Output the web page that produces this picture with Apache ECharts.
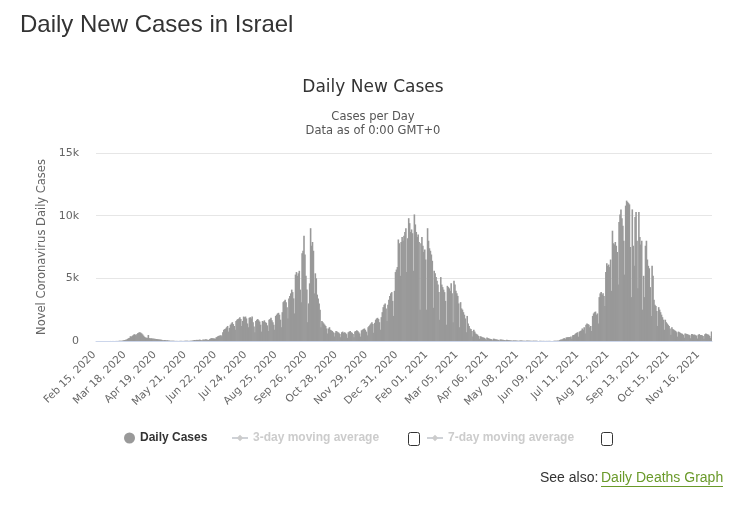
<!DOCTYPE html>
<html>
<head>
<meta charset="utf-8">
<script src="https://cdn.jsdelivr.net/npm/echarts@6/dist/echarts.min.js"></script>
<style>
html,body{margin:0;padding:0;background:#fff;}
#chart{width:746px;height:509px;}
</style>
</head>
<body>
<div id="chart"></div>
<script>
// Daily new cases, Israel — one array per month (Feb 15, 2020 .. Nov 28, 2021)
const feb2020 = [0,0,0,0,0,0,1,0,0,0,0,1,0,1,2];
const mar2020 = [3,2,3,3,2,4,4,7,6,12,21,17,25,42,58,75,102,120,170,220,250,380,350,410,470,540,520,460,560,640,680];
const apr2020 = [690,650,600,520,420,330,280,260,250,480,230,210,220,200,190,180,170,160,150,140,130,120,110,100,70,60,80,70,50,60];
const may2020 = [40,30,20,15,12,18,10,8,6,10,5,3,8,15,12,7,5,10,17,20,14,12,8,10,15,25,40,60,80,70,90];
const jun2020 = [90,80,110,100,50,60,120,100,110,130,120,90,80,150,200,230,220,210,200,180,300,330,390,420,440,460,380,700,900,950];
const jul2020 = [1000,1100,1200,750,1050,1300,1400,1500,1350,1200,900,1600,1700,1750,1800,1900,1750,1200,1600,1950,1900,1950,1800,1400,1100,1850,1900,1800,1950,1500,1150];
const aug2020 = [700,1600,1700,1750,1650,1550,1300,750,1600,1550,1650,1500,1450,1250,800,1700,1750,1850,1650,1500,1300,900,2000,2100,2200,2250,2100,1700,1100,2300,3100];
const sep2020 = [3200,3300,3100,2700,1800,3400,3600,3800,4100,3900,3400,2200,5300,5500,5200,5400,5600,4100,3100,7000,7200,8400,6900,5200,4100,1500,3000,4600,9000,7600];
const oct2020 = [7900,7200,3800,5400,5000,3700,3400,3000,2500,1100,1600,1500,1400,1300,1200,1000,600,1000,1100,900,850,800,700,350,650,800,750,700,650,550,300];
const nov2020 = [700,750,650,700,650,550,250,700,750,800,700,650,550,300,750,800,850,800,700,600,350,850,900,950,1000,900,750,450,1100,1200];
const dec2020 = [1300,1400,1500,1350,650,1450,1700,1800,1850,1750,1500,900,1900,2300,2700,2900,3000,2600,1600,2900,3300,3600,3800,3900,3200,2000,4000,5500,5700,5900,8100];
const jan2021 = [7800,5200,7900,8300,8000,8400,8700,9000,5500,8200,9800,9400,8700,8900,8600,5600,10100,9300,8700,8300,8500,7900,2500,7800,8300,7600,7100,7300,6500,2500,9000];
const feb2021 = [8000,7400,7200,6900,6400,2650,5600,5400,5100,4800,4500,3900,1700,5100,4500,4300,4100,3900,3200,1300,4400,4300,4200,4000,4600,3800,1500,4800];
const mar2021 = [4500,4000,3800,3600,3000,1100,3100,2600,2500,2300,2100,1800,700,2000,1400,1200,1000,950,800,350,900,750,600,550,500,400,180,380,350,300,280];
const apr2021 = [250,200,90,280,230,200,180,160,140,60,190,170,140,130,110,90,40,120,110,100,90,80,70,30,100,80,70,60,50,40];
const may2021 = [20,50,40,45,35,30,25,15,40,35,30,28,25,20,10,35,30,28,25,20,18,8,25,20,15,12,10,8,5,15,12];
const jun2021 = [10,8,12,6,4,10,8,7,12,9,6,2,8,10,12,15,20,30,25,70,110,125,140,200,230,150,280,300,290,310];
const jul2021 = [300,350,180,450,480,520,600,650,700,350,750,800,850,1000,900,1100,600,1300,1400,1350,1300,1100,1200,800,2000,2200,2300,2350,2100,2200,1400];
const aug2021 = [3500,3800,3900,3700,3800,3600,2800,5500,6200,6000,6100,5900,6500,4000,8800,7800,7700,7900,7600,7100,4500,9500,10100,10500,9800,9200,8000,5300,10800,11200,11100];
const sep2021 = [11000,10900,7500,3500,10500,7600,6000,9900,10300,8000,4200,10300,8300,7700,8000,2500,5200,3500,7600,8000,6500,6000,5800,4300,2000,6000,5200,3300,2900,2800];
const oct2021 = [2400,1200,2700,2500,2300,2100,1900,1700,900,1700,1500,1400,1300,1200,1000,500,1100,950,900,850,800,700,350,750,700,650,600,580,500,250,600];
const nov2021 = [580,550,520,500,450,220,560,550,480,520,470,430,200,500,550,480,470,450,400,180,530,600,550,520,500,400,250,750];

const dailyCases = [].concat(feb2020, mar2020, apr2020, may2020, jun2020, jul2020, aug2020, sep2020,
  oct2020, nov2020, dec2020, jan2021, feb2021, mar2021, apr2021, may2021, jun2021, jul2021,
  aug2021, sep2021, oct2021, nov2021);

const monthNames = ['Jan','Feb','Mar','Apr','May','Jun','Jul','Aug','Sep','Oct','Nov','Dec'];
const startDate = Date.UTC(2020, 1, 15);
const categories = dailyCases.map(function (_, i) {
  const d = new Date(startDate + i * 86400000);
  const dd = String(d.getUTCDate()).padStart(2, '0');
  return monthNames[d.getUTCMonth()] + ' ' + dd + ', ' + d.getUTCFullYear();
});

const yTicks = [0, 5000, 10000, 15000];
const yTickLabels = ['0', '5k', '10k', '15k'];

const chart = echarts.init(document.getElementById('chart'), null, {renderer: 'canvas'});
const FONT = 'DejaVu Sans';
const ARIAL = 'Liberation Sans';
const selected = {'Daily Cases': true, '3-day moving average': false, '7-day moving average': false};
const legendBase = {
  top: 432, orient: 'horizontal', itemGap: 20, selected: selected, padding: 0,
  inactiveColor: '#cccccc',
  textStyle: {fontFamily: ARIAL, fontSize: 12, fontWeight: 'bold', color: '#333333'}
};

chart.setOption({
  animation: false,
  textStyle: {fontFamily: FONT},
  title: [
    {text: 'Daily New Cases in Israel', left: 20, top: 13, padding: 0,
     textStyle: {fontFamily: ARIAL, fontSize: 24, fontWeight: 'normal', color: '#333333'}},
    {text: 'Daily New Cases', left: 'center', top: 74,
     textStyle: {fontFamily: FONT, fontSize: 17, fontWeight: 'normal', color: '#333333'}},
    {text: 'Cases per Day', left: 'center', top: 106,
     textStyle: {fontFamily: FONT, fontSize: 11.5, fontWeight: 'normal', color: '#555555'}},
    {text: 'Data as of 0:00 GMT+0', left: 'center', top: 120,
     textStyle: {fontFamily: FONT, fontSize: 11.5, fontWeight: 'normal', color: '#555555'}}
  ],
  grid: {left: 96, right: 34, top: 153, bottom: 168, containLabel: false},
  legend: [
    Object.assign({}, legendBase, {left: 124, data: [{name: 'Daily Cases', icon: 'circle'}], itemWidth: 11, itemHeight: 11}),
    Object.assign({}, legendBase, {left: 231, data: ['3-day moving average'], itemWidth: 16, itemHeight: 8}),
    Object.assign({}, legendBase, {left: 426, data: ['7-day moving average'], itemWidth: 16, itemHeight: 8})
  ],
  xAxis: {
    type: 'category',
    data: categories,
    boundaryGap: true,
    axisLine: {lineStyle: {color: '#ccd6eb'}},
    axisTick: {show: false},
    axisLabel: {interval: 31, rotate: 45, color: '#666666', fontSize: 10.5, fontFamily: FONT, margin: 10,
                padding: [0, 3, 0, 0]}
  },
  yAxis: {
    type: 'value',
    min: 0, max: 15000, interval: 5000,
    name: 'Novel Coronavirus Daily Cases',
    nameLocation: 'middle',
    nameGap: 48,
    nameTextStyle: {color: '#666666', fontSize: 11.5, fontFamily: FONT},
    axisLine: {show: false},
    axisTick: {show: false},
    splitLine: {lineStyle: {color: '#e6e6e6'}},
    axisLabel: {
      color: '#666666', fontSize: 11, fontFamily: FONT, margin: 17,
      formatter: function (v) { const i = yTicks.indexOf(v); return i >= 0 ? yTickLabels[i] : ''; }
    }
  },
  series: [
    {name: 'Daily Cases', type: 'bar', data: dailyCases, barWidth: 1.6,
     itemStyle: {color: '#999999'}},
    {name: '3-day moving average', type: 'line', data: [], symbol: 'diamond', symbolSize: 8,
     itemStyle: {color: '#999999'}, lineStyle: {color: '#999999'}},
    {name: '7-day moving average', type: 'line', data: [], symbol: 'diamond', symbolSize: 8,
     itemStyle: {color: '#999999'}, lineStyle: {color: '#999999'}}
  ],
  graphic: [
    {type: 'rect', left: 408, top: 432, shape: {width: 11, height: 13, r: 2},
     style: {fill: '#ffffff', stroke: '#333333', lineWidth: 1}},
    {type: 'rect', left: 601, top: 432, shape: {width: 11, height: 13, r: 2},
     style: {fill: '#ffffff', stroke: '#333333', lineWidth: 1}},
    {type: 'text', left: 540, top: 471,
     style: {text: 'See also:', font: '14px "Liberation Sans"', fill: '#333333'}},
    {type: 'text', left: 601, top: 471,
     style: {text: 'Daily Deaths Graph', font: '14px "Liberation Sans"', fill: '#6a9a2a'}},
    {type: 'rect', left: 601, top: 486, shape: {width: 122, height: 1},
     style: {fill: '#6a9a2a'}}
  ]
});
</script>
</body>
</html>
